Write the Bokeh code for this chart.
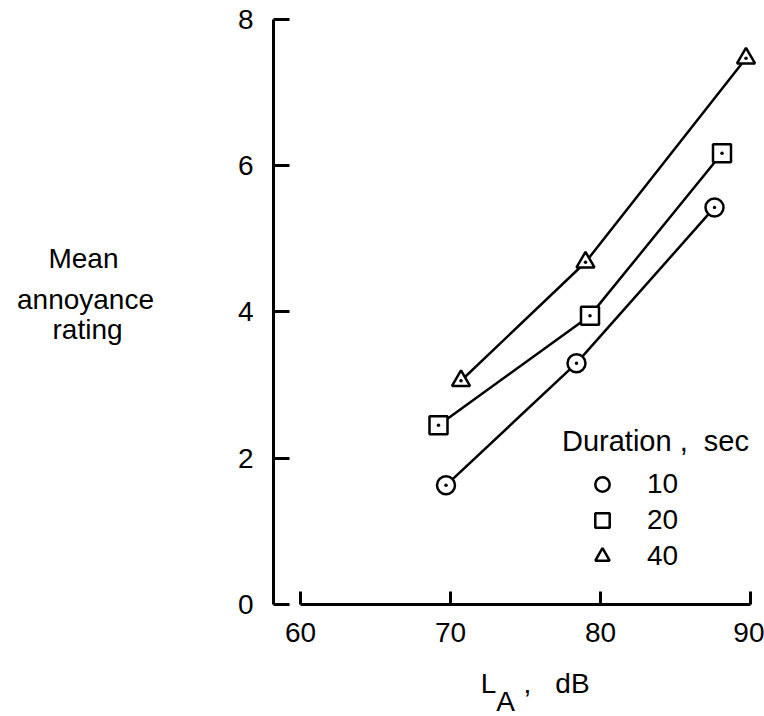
from bokeh.plotting import figure
from bokeh.models import Range1d, Legend, LegendItem, Label, FixedTicker
from bokeh.embed import file_html
from bokeh.resources import INLINE

# ---- data ----
x_ticks = [60, 70, 80, 90]
y_ticks = [0, 2, 4, 6, 8]
durations = ["10", "20", "40"]
la_10 = [69.7, 78.4, 87.6]
ann_10 = [1.63, 3.30, 5.43]
la_20 = [69.2, 79.3, 88.1]
ann_20 = [2.45, 3.95, 6.17]
la_40 = [70.7, 79.0, 89.7]
ann_40 = [3.06, 4.68, 7.47]
markers = ["circle", "square", "triangle"]

FONT = "Liberation Sans"

p = figure(width=764, height=716, output_backend="svg", toolbar_location=None,
           x_range=Range1d(40.0, 90.933), y_range=Range1d(-1.5316, 8.2598),
           min_border=0, min_border_left=0, min_border_right=0,
           min_border_top=0, min_border_bottom=0)
p.outline_line_color = None
p.xgrid.visible = False
p.ygrid.visible = False
p.background_fill_color = "white"
p.border_fill_color = "white"

for ax in (p.xaxis, p.yaxis):
    ax.major_tick_out = 0
    ax.minor_tick_line_color = None
    ax.axis_line_width = 3
    ax.major_tick_line_width = 3
    ax.axis_line_color = "black"
    ax.major_tick_line_color = "black"
    ax.major_label_text_font = FONT
    ax.major_label_text_font_size = "28px"
    ax.major_label_text_color = "black"

p.xaxis.ticker = FixedTicker(ticks=x_ticks)
p.xaxis.bounds = (60, 90)
p.xaxis.fixed_location = 0
p.xaxis.major_tick_in = 13
p.xaxis.major_label_standoff = 18

p.yaxis.ticker = FixedTicker(ticks=y_ticks)
p.yaxis.bounds = (0, 8)
p.yaxis.fixed_location = 58.2
p.yaxis.major_tick_in = 16
p.yaxis.major_label_standoff = 20

series = [(la_10, ann_10), (la_20, ann_20), (la_40, ann_40)]
items = []
for (xs, ys), mk, lab in zip(series, markers, durations):
    p.line(xs, ys, line_color="black", line_width=2.5)
    r = p.scatter(xs, ys, marker=mk, size=18, fill_color="white",
                  line_color="black", line_width=2.5)
    p.scatter(xs, ys, marker="circle", size=3.5, fill_color="black",
              line_color=None)
    items.append(LegendItem(label=lab, renderers=[r]))

legend = Legend(items=items, title="Duration ,  sec", location=(562, 142),
                title_text_font=FONT, title_text_font_size="29px",
                title_text_font_style="normal", title_text_color="black",
                title_standoff=8,
                label_text_font=FONT, label_text_font_size="28px",
                label_text_color="black",
                glyph_width=80, glyph_height=36, label_height=36,
                label_standoff=5, spacing=0, padding=0, margin=0,
                border_line_color=None, background_fill_alpha=0)
p.add_layout(legend)

# y axis title (three lines)
for txt, xv, yv in [("Mean", 45.533, 4.732), ("annoyance", 45.667, 4.171),
                    ("rating", 45.8, 3.76)]:
    p.add_layout(Label(x=xv, y=yv, text=txt, text_font=FONT,
                       text_font_size="28px", text_align="center",
                       text_baseline="alphabetic", text_color="black"))

# x axis title  L_A ,  dB
for txt, xv, yv in [("L", 72.533, -1.080), ("A", 73.667, -1.327),
                    (",", 75.133, -1.080), ("dB", 78.133, -1.080)]:
    p.add_layout(Label(x=xv, y=yv, text=txt, text_font=FONT,
                       text_font_size="28px", text_align="center",
                       text_baseline="alphabetic", text_color="black"))

open("out.html", "w").write(file_html(p, INLINE))
